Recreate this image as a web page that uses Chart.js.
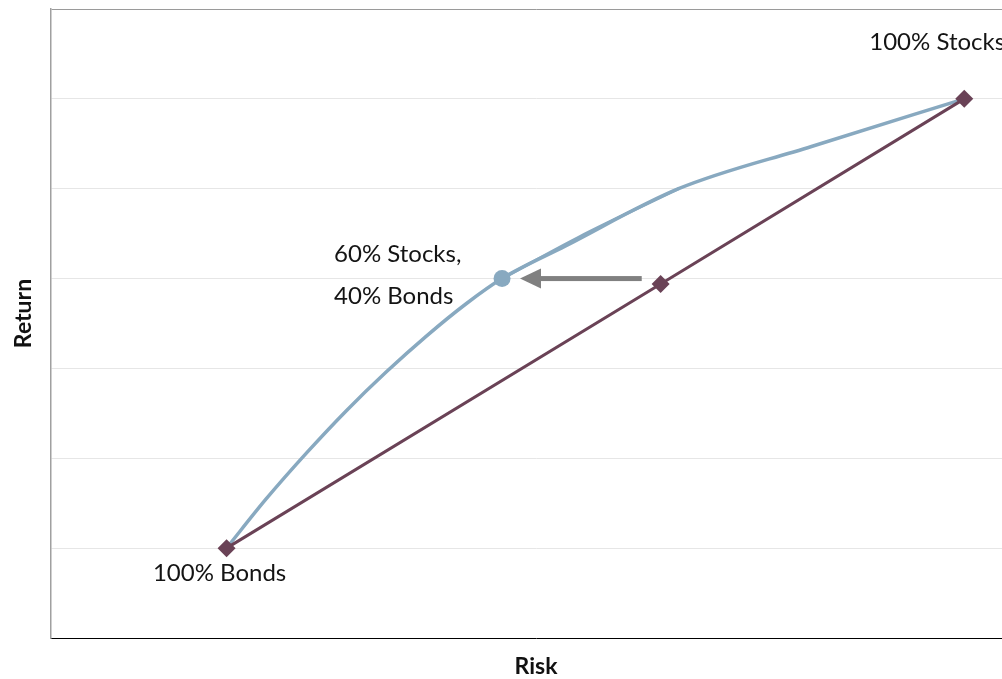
<!DOCTYPE html>
<html>
<head>
<meta charset="utf-8">
<script src="https://cdn.jsdelivr.net/npm/chart.js@4/dist/chart.umd.min.js"></script>
<style>
  html, body { margin: 0; padding: 0; background: #fff; overflow: hidden; }
  #wrap { width: 1002px; height: 679px; overflow: hidden; }
  canvas { display: block; }
</style>
</head>
<body>
<div id="wrap"><canvas id="c" width="1030" height="679"></canvas></div>
<script>
// Efficient frontier: risk (x) against return (y)
const frontierRisk   = [3.62, 4.44, 5.27, 6.09, 6.91, 7.74, 8.56, 9.30, 10.60, 12.94, 15.68, 18.83];
const frontierReturn = [1.00, 1.55, 2.06, 2.53, 2.96, 3.36, 3.72, 4.00, 4.36,  5.00,  5.47,  6.00];

// Second trace of the frontier between the 60/40 mix and the next mix up
const frontierAltRisk   = [9.30, 10.88, 12.94];
const frontierAltReturn = [4.00, 4.46,  5.00];

// Straight-line blend of the two assets
const blendRisk   = [3.62, 12.57, 18.83];
const blendReturn = [1.00, 3.94, 6.00];

// Diversified 60/40 portfolio on the frontier
const mixRisk   = [9.30];
const mixReturn = [4.00];

// Arrow from the straight-line 60/40 point to the frontier
const arrowRisk   = [12.18, 9.67];
const arrowReturn = [4.00, 4.00];

const yTicks = [0, 1, 2, 3, 4, 5, 6, 7];

const labelFont = '24px Lato';
const titleFont = 'bold 23px Lato';
const BLUE = '#88a9c0';
const PLUM = '#6a4256';

const toPts = (xs, ys) => xs.map((x, i) => ({ x, y: ys[i] }));

const annotations = {
  id: 'annotations',
  afterDatasetsDraw(chart) {
    const { ctx, chartArea, scales: { x, y } } = chart;
    ctx.save();

    // arrow
    const x0 = x.getPixelForValue(arrowRisk[0]);
    const x1 = x.getPixelForValue(arrowRisk[1]);
    const ay = y.getPixelForValue(arrowReturn[0]);
    const head = 21;
    ctx.fillStyle = '#808080';
    ctx.fillRect(x1 + head - 1, ay - 2.5, x0 - x1 - head + 1, 5);
    ctx.beginPath();
    ctx.moveTo(x1, ay);
    ctx.lineTo(x1 + head, ay - 10);
    ctx.lineTo(x1 + head, ay + 10);
    ctx.closePath();
    ctx.fill();

    // text labels
    ctx.fillStyle = '#141414';
    ctx.font = labelFont;
    ctx.textBaseline = 'middle';

    const bx = x.getPixelForValue(blendRisk[0]);
    const by = y.getPixelForValue(blendReturn[0]);
    ctx.textAlign = 'center';
    ctx.fillText('100% Bonds', bx - 7, by + 25);

    const sx = x.getPixelForValue(blendRisk[2]);
    const sy = y.getPixelForValue(blendReturn[2]);
    ctx.textAlign = 'left';
    ctx.fillText('100% Stocks', sx - 95, sy - 57);

    const mx = x.getPixelForValue(mixRisk[0]);
    const my = y.getPixelForValue(mixReturn[0]);
    ctx.fillText('60% Stocks,', mx - 168, my - 24);
    ctx.fillText('40% Bonds', mx - 168, my + 18);

    // axis titles
    ctx.fillStyle = '#111';
    ctx.font = titleFont;
    ctx.textAlign = 'center';
    ctx.fillText('Risk', (chartArea.left + chartArea.right) / 2, chartArea.bottom + 29);
    ctx.translate(24, (chartArea.top + chartArea.bottom) / 2 - 10);
    ctx.rotate(-Math.PI / 2);
    ctx.fillText('Return', 0, 0);

    ctx.restore();
  }
};

new Chart(document.getElementById('c'), {
  type: 'scatter',
  data: {
    datasets: [
      {
        data: toPts(mixRisk, mixReturn),
        pointRadius: 8.5,
        pointBackgroundColor: BLUE,
        pointBorderWidth: 0,
        showLine: false,
        order: 0
      },
      {
        data: toPts(blendRisk, blendReturn),
        showLine: true,
        borderColor: PLUM,
        borderWidth: 3,
        pointStyle: 'rectRot',
        pointRadius: 9,
        pointBackgroundColor: PLUM,
        pointBorderWidth: 0,
        order: 1
      },
      {
        data: toPts(frontierRisk, frontierReturn),
        showLine: true,
        borderColor: BLUE,
        borderWidth: 3.5,
        cubicInterpolationMode: 'monotone',
        pointRadius: 0,
        order: 2
      },
      {
        data: toPts(frontierAltRisk, frontierAltReturn),
        showLine: true,
        borderColor: BLUE,
        borderWidth: 3,
        cubicInterpolationMode: 'monotone',
        pointRadius: 0,
        order: 3
      }
    ]
  },
  options: {
    responsive: false,
    animation: false,
    layout: { padding: { top: 8, right: 7, bottom: 0, left: 0 } },
    plugins: { legend: { display: false }, tooltip: { enabled: false } },
    scales: {
      x: {
        type: 'linear',
        min: 0,
        max: 20,
        grid: { display: false, drawTicks: false },
        border: { display: true, color: '#000', width: 1 },
        ticks: { display: false },
        afterFit(scale) { scale.height = 41; }
      },
      y: {
        type: 'linear',
        min: yTicks[0],
        max: yTicks[yTicks.length - 1],
        afterBuildTicks(scale) { scale.ticks = yTicks.map(v => ({ value: v })); },
        grid: {
          drawTicks: false,
          color: ctx => ctx.tick.value === 7 ? '#9a9a9a' : (ctx.tick.value === 0 ? 'rgba(0,0,0,0)' : '#e6e6e6'),
          lineWidth: 1
        },
        border: { display: true, color: '#a0a0a0', width: 1.5 },
        ticks: { display: false },
        afterFit(scale) { scale.width = 51; }
      }
    }
  },
  plugins: [annotations]
});
</script>
</body>
</html>
